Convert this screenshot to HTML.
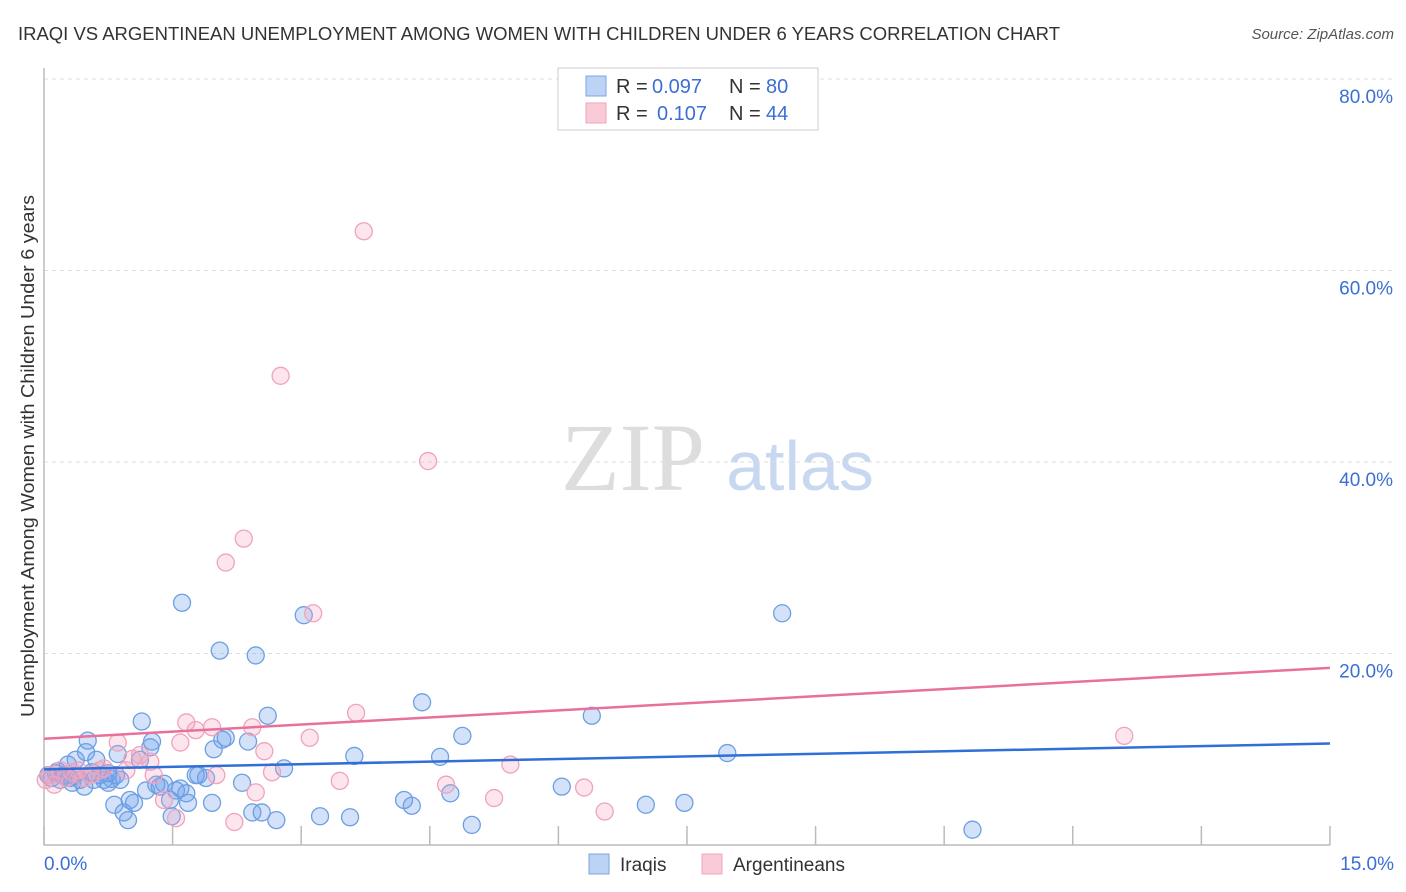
<!DOCTYPE html>
<html><head><meta charset="utf-8"><style>
body{margin:0;background:#fff;font-family:"Liberation Sans",sans-serif}
svg{display:block}
</style></head><body>
<svg id="chart" width="1406" height="892">
<text x="18" y="40" font-size="18" fill="#333" textLength="1042" lengthAdjust="spacingAndGlyphs">IRAQI VS ARGENTINEAN UNEMPLOYMENT AMONG WOMEN WITH CHILDREN UNDER 6 YEARS CORRELATION CHART</text>
<text x="1394" y="39" font-size="15" fill="#555" font-style="italic" text-anchor="end">Source: ZipAtlas.com</text>
<text transform="translate(34,456) rotate(-90)" font-size="18" fill="#333" text-anchor="middle" textLength="522" lengthAdjust="spacingAndGlyphs">Unemployment Among Women with Children Under 6 years</text>
<g><text x="633" y="490" font-size="96" fill="#ddd" font-family="Liberation Serif" text-anchor="middle">ZIP</text><text x="800" y="490" font-size="70" fill="#c8d8f0" text-anchor="middle">atlas</text></g>
<g id="grid"></g><g id="pts"></g><g id="lines"></g>
<g>
<rect x="558" y="68" width="260" height="62" fill="#fff" stroke="#ccc"/>
<rect x="586" y="76" width="20" height="20" fill="#bcd3f5" stroke="#7aa5e3"/>
<rect x="586" y="103" width="20" height="20" fill="#f9cbd9" stroke="#eea4bb"/>
<text x="616" y="93" font-size="20" fill="#333">R =</text><text x="652" y="93" font-size="20" fill="#3b6fd4">0.097</text>
<text x="729" y="93" font-size="20" fill="#333">N =</text><text x="766" y="93" font-size="20" fill="#3b6fd4">80</text>
<text x="616" y="120" font-size="20" fill="#333">R =</text><text x="657" y="120" font-size="20" fill="#3b6fd4">0.107</text>
<text x="729" y="120" font-size="20" fill="#333">N =</text><text x="766" y="120" font-size="20" fill="#3b6fd4">44</text>
</g>
<g>
<rect x="589" y="854" width="20" height="20" fill="#bcd3f5" stroke="#7aa5e3"/>
<text x="620" y="871" font-size="19" fill="#333">Iraqis</text>
<rect x="702" y="854" width="20" height="20" fill="#f9cbd9" stroke="#eea4bb"/>
<text x="733" y="871" font-size="19" fill="#333">Argentineans</text>
</g>
</svg>
<script>
const yTicks=[20,40,60,80];
const yTickLabels=["20.0%","40.0%","60.0%","80.0%"];
const xTicks=[0,1.5,3,4.5,6,7.5,9,10.5,12,13.5,15];
const iraqiX=[0.05,0.09,0.14,0.19,0.23,0.28,0.33,0.37,0.42,0.47,0.49,0.51,0.56,0.61,0.65,0.7,0.75,0.79,0.82,0.84,0.86,0.89,0.93,0.98,1.0,1.05,1.12,1.14,1.19,1.24,1.26,1.31,1.35,1.4,1.47,1.49,1.54,1.59,1.61,1.66,1.68,1.77,1.8,1.89,1.96,1.98,2.05,2.08,2.12,2.31,2.38,2.43,2.47,2.54,2.61,2.71,2.8,3.03,3.22,3.57,3.62,4.2,4.29,4.41,4.62,4.74,4.88,4.99,6.04,6.39,7.02,7.47,7.97,8.61,10.83,0.3,0.16,0.58,0.75,0.35];
const iraqiY=[7.3,7.0,7.5,6.8,7.3,8.4,6.5,8.9,6.8,6.1,9.7,10.9,7.6,8.9,7.3,6.8,6.5,6.9,4.2,7.3,9.5,6.8,3.4,2.6,4.7,4.4,8.9,12.9,5.7,10.2,10.8,6.3,6.1,6.4,4.7,3.0,5.7,5.9,25.3,5.4,4.4,7.3,7.3,7.0,4.4,10.0,20.3,11.0,11.2,6.5,10.8,3.4,19.8,3.4,13.5,2.6,8.0,24.0,3.0,2.9,9.3,4.7,4.1,14.9,9.2,5.4,11.4,2.1,6.1,13.5,4.2,4.4,9.6,24.2,1.6,7.0,7.7,6.8,7.5,7.2];
const argX=[0.02,0.07,0.12,0.19,0.26,0.33,0.4,0.47,0.54,0.65,0.7,0.86,0.96,1.03,1.12,1.24,1.28,1.4,1.54,1.59,1.66,1.77,1.96,2.01,2.12,2.22,2.33,2.43,2.47,2.57,2.66,2.76,3.1,3.14,3.45,3.64,3.73,4.48,4.69,5.25,5.44,6.3,6.54,12.6];
const argY=[6.8,7.3,6.3,7.8,7.0,7.6,7.8,7.0,7.3,7.8,8.0,10.7,7.8,9.0,9.4,8.7,7.3,4.7,2.8,10.7,12.8,12.0,12.3,7.3,29.5,2.4,32.0,12.3,5.5,9.8,7.6,49.0,11.2,24.2,6.7,13.8,64.1,40.1,6.3,4.9,8.4,6.0,3.5,11.4];
const iraqiTrend=[7.9,10.6];
const argTrend=[11.1,18.5];
const ns="http://www.w3.org/2000/svg";
const X=v=>44+v*85.73, Y=v=>845-v*9.575;
const grid=document.getElementById('grid'),pts=document.getElementById('pts'),lines=document.getElementById('lines');
function mk(tag,at,p){const e=document.createElementNS(ns,tag);for(const k in at)e.setAttribute(k,at[k]);p.appendChild(e);return e;}
yTicks.forEach((t,i)=>{
 const l=mk('line',{x1:44,x2:1394,y1:Y(t),y2:Y(t),stroke:'#ddd','stroke-dasharray':'4,4'},grid);
 
 
 const tx=mk('text',{x:1393,y:Y(t)+24,'font-size':19,fill:'#3b6fd4','text-anchor':'end'},grid);
 tx.textContent=yTickLabels[i];
 
 
});
const ax=mk('path',{d:`M44,68 V845 H1330`,stroke:'#bbb',fill:'none','stroke-width':1.5},grid);


xTicks.forEach(t=>{
 const l=mk('line',{x1:X(t),x2:X(t),y1:826,y2:845,stroke:'#bbb','stroke-width':1.5},grid);
 
 
});
const x0=mk('text',{x:44,y:870,'font-size':19,fill:'#3b6fd4'},grid);x0.textContent='0.0%';


const x1=mk('text',{x:1394,y:870,'font-size':19,fill:'#3b6fd4','text-anchor':'end'},grid);x1.textContent='15.0%';


function series(xs,ys,fill,stroke,name){
 xs.forEach((v,i)=>{const c=mk('circle',{cx:X(v),cy:Y(ys[i]),r:8.5,fill:fill,stroke:stroke,'stroke-width':1.3},pts);
 
 });
}
series(iraqiX,iraqiY,'rgba(110,160,235,0.3)','#6d9fe2','iraqi-point');
series(argX,argY,'rgba(245,160,190,0.28)','#f0a3bb','argentinean-point');
function line(tr,col,name){const l=mk('line',{x1:X(0),y1:Y(tr[0]),x2:X(15),y2:Y(tr[1]),stroke:col,'stroke-width':2.5},lines);
 
 }
line(iraqiTrend,'#2f6fd6','iraqi-trend-line');
line(argTrend,'#e8709a','argentinean-trend-line');
</script>
</body></html>
